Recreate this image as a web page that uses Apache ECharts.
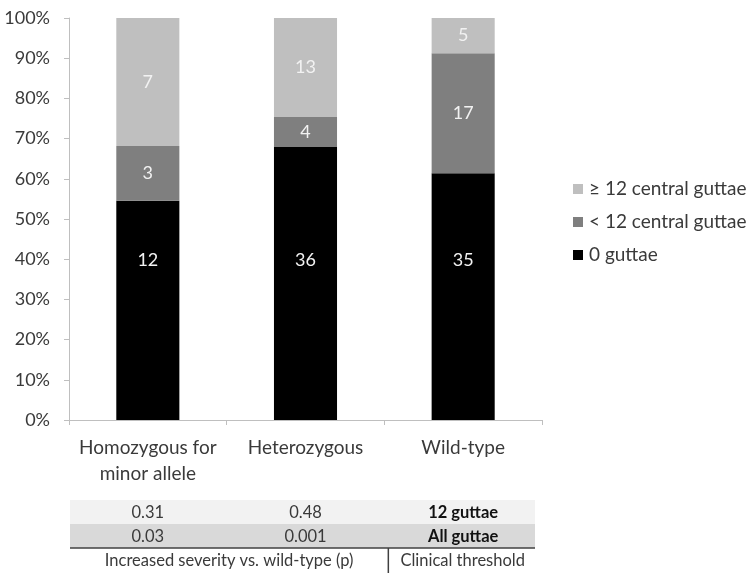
<!DOCTYPE html>
<html>
<head>
<meta charset="utf-8">
<script src="https://cdn.jsdelivr.net/npm/echarts@6/dist/echarts.min.js"></script>
<style>
  html, body { margin: 0; padding: 0; background: #fff; }
  #chart { width: 750px; height: 581px; }
</style>
</head>
<body>
<div id="chart"></div>
<script>
const categories = ['Homozygous for\nminor allele', 'Heterozygous', 'Wild-type']
const seriesNames = ['0 guttae', '< 12 central guttae', '≥ 12 central guttae']
const zeroGuttae = [12, 36, 35]
const under12 = [3, 4, 17]
const over12 = [7, 13, 5]
const yTicks = [0, 10, 20, 30, 40, 50, 60, 70, 80, 90, 100]

// p values table (increased severity vs. wild-type)
const pRow12 = ['0.31', '0.48']
const pRowAll = ['0.03', '0.001']
const thresholdLabels = ['12 guttae', 'All guttae']
const tableFooter = ['Increased severity vs. wild-type (p)', 'Clinical threshold']

const counts = [zeroGuttae, under12, over12]
const totals = categories.map((_, i) => counts.reduce((s, arr) => s + arr[i], 0))
const colors = ['#000000', '#7f7f7f', '#bfbfbf']
const FONT = 'Lato'
const TXT = '#3a3a3a'

const chart = echarts.init(document.getElementById('chart'))

function makeSeries(k) {
  const label = {
    show: true,
    color: '#f2f2f2',
    fontFamily: FONT,
    fontSize: 18,
    formatter: p => String(counts[k][p.dataIndex])
  }
  if (k === 0) {
    label.position = 'insideBottom'
    label.distance = 151
  } else {
    label.position = 'inside'
  }
  return {
    name: seriesNames[k],
    type: 'bar',
    stack: 'total',
    barWidth: '40%',
    itemStyle: { color: colors[k] },
    label,
    data: counts[k].map((v, i) => v / totals[i] * 100)
  }
}

const option = {
  animation: false,
  backgroundColor: '#ffffff',
  grid: { left: 69, right: 208, top: 18, bottom: 161, containLabel: false },
  legend: {
    orient: 'vertical',
    left: 568,
    top: 174,
    itemWidth: 10,
    itemHeight: 10,
    itemGap: 13,
    icon: 'rect',
    data: [seriesNames[2], seriesNames[1], seriesNames[0]],
    textStyle: { fontFamily: FONT, fontSize: 19, color: TXT, lineHeight: 20, padding: [0, 0, 0, 1] }
  },
  xAxis: {
    type: 'category',
    data: categories,
    axisLine: { lineStyle: { color: '#bfbfbf', width: 1 } },
    axisTick: { show: true, length: 5, lineStyle: { color: '#bfbfbf' } },
    axisLabel: {
      margin: 15,
      fontFamily: FONT,
      fontSize: 19,
      color: TXT,
      lineHeight: 26,
      interval: 0
    }
  },
  yAxis: {
    type: 'value',
    min: yTicks[0],
    max: yTicks[yTicks.length - 1],
    interval: 10,
    splitLine: { show: false },
    axisLine: { show: true, lineStyle: { color: '#bfbfbf', width: 1 } },
    axisTick: { show: true, length: 5, lineStyle: { color: '#bfbfbf' } },
    axisLabel: {
      margin: 19,
      fontFamily: FONT,
      fontSize: 18,
      color: TXT,
      formatter: '{value}%'
    }
  },
  series: [makeSeries(0), makeSeries(1), makeSeries(2)]
}

chart.setOption(option)

// table under the chart, aligned with the category columns
function buildTable() {
  const cx = categories.map((_, i) => chart.convertToPixel({ xAxisIndex: 0 }, i))
  const band = cx[1] - cx[0]
  const left = cx[0] - band / 2 + 1
  const right = cx[2] + band / 2 - 7
  const split = (cx[1] + cx[2]) / 2 + 4
  const r1 = 500, r2 = 524, r3 = 548
  const els = []
  els.push({ type: 'rect', shape: { x: left, y: r1, width: right - left, height: r2 - r1 }, style: { fill: '#f2f2f2' }, silent: true })
  els.push({ type: 'rect', shape: { x: left, y: r2, width: right - left, height: r3 - r2 }, style: { fill: '#d9d9d9' }, silent: true })
  els.push({ type: 'line', shape: { x1: left, y1: r3, x2: right, y2: r3 }, style: { stroke: '#404040', lineWidth: 1.5 }, silent: true })
  els.push({ type: 'line', shape: { x1: split, y1: r3, x2: split, y2: r3 + 25 }, style: { stroke: '#404040', lineWidth: 1.5 }, silent: true })
  const txt = (x, y, s, bold) => ({
    type: 'text', x, y,
    style: { text: s, fill: bold ? '#111' : TXT, font: (bold ? 'bold ' : '') + '16.5px ' + FONT, textAlign: 'center', textVerticalAlign: 'middle' },
    silent: true
  })
  pRow12.forEach((s, i) => els.push(txt(cx[i], (r1 + r2) / 2 + 1, s)))
  pRowAll.forEach((s, i) => els.push(txt(cx[i], (r2 + r3) / 2 + 1, s)))
  els.push(txt(cx[2], (r1 + r2) / 2 + 1, thresholdLabels[0], true))
  els.push(txt(cx[2], (r2 + r3) / 2 + 1, thresholdLabels[1], true))
  els.push(txt((left + split) / 2, r3 + 13, tableFooter[0]))
  els.push(txt((split + right) / 2 + 1, r3 + 13, tableFooter[1]))
  chart.setOption({ graphic: els })
}
buildTable()
</script>
</body>
</html>
